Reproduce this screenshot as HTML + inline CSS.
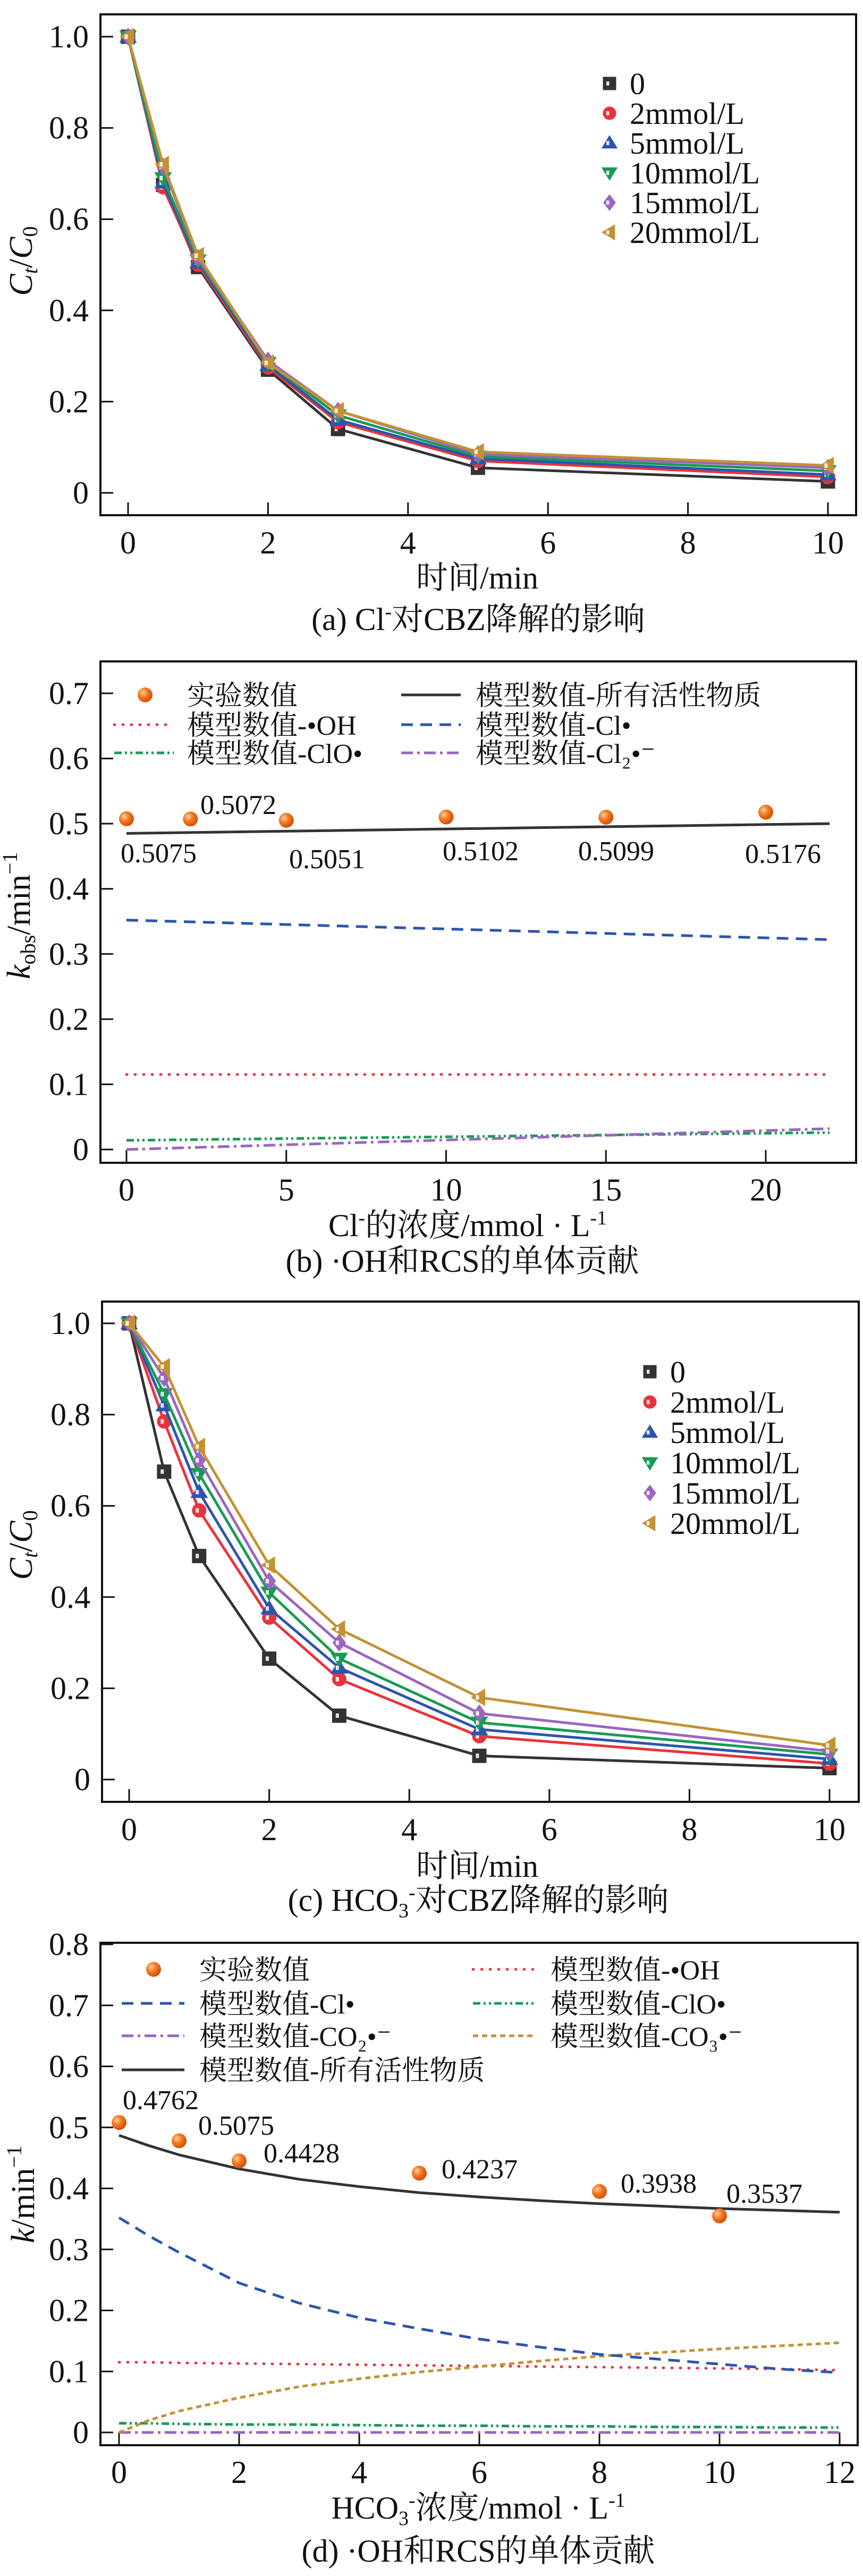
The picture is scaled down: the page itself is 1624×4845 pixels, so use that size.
<!DOCTYPE html>
<html><head><meta charset="utf-8">
<style>
html,body{margin:0;padding:0;background:#fff;}
svg{display:block;}
text{font-family:"Liberation Serif","Noto Serif CJK SC","Noto Sans CJK SC",serif;fill:#111;}
</style></head>
<body>
<svg id="fig" width="1624" height="4845" viewBox="0 0 1624 4845" xmlns="http://www.w3.org/2000/svg"></svg>
<script>
// ---------- Panel (a) data ----------
const aTimes = [0, 0.5, 1, 2, 3, 5, 10];
const aSeriesNames = ["0", "2mmol/L", "5mmol/L", "10mmol/L", "15mmol/L", "20mmol/L"];
const aS0 = [1, 0.675, 0.495, 0.27, 0.14, 0.055, 0.025];
const aS2 = [1, 0.67, 0.50, 0.275, 0.155, 0.07, 0.035];
const aS5 = [1, 0.68, 0.505, 0.28, 0.16, 0.075, 0.04];
const aS10 = [1, 0.69, 0.51, 0.285, 0.17, 0.08, 0.048];
const aS15 = [1, 0.715, 0.515, 0.29, 0.18, 0.085, 0.055];
const aS20 = [1, 0.72, 0.52, 0.285, 0.18, 0.09, 0.06];
const aYTicks = [0, 0.2, 0.4, 0.6, 0.8, 1.0];
const aYTickLabels = ["0", "0.2", "0.4", "0.6", "0.8", "1.0"];
const aXTicks = [0, 2, 4, 6, 8, 10];

// ---------- Panel (b) data ----------
const bConc = [0, 2, 5, 10, 15, 20];
const bExp = [0.5075, 0.5072, 0.5051, 0.5102, 0.5099, 0.5176];
const bExpLabels = ["0.5075", "0.5072", "0.5051", "0.5102", "0.5099", "0.5176"];
const bLineX = [0, 22];
const bAll = [0.485, 0.500];
const bOH = [0.115, 0.115];
const bCl = [0.352, 0.322];
const bClO = [0.014, 0.026];
const bCl2 = [0.0, 0.032];
const bYTicks = [0, 0.1, 0.2, 0.3, 0.4, 0.5, 0.6, 0.7];
const bYTickLabels = ["0", "0.1", "0.2", "0.3", "0.4", "0.5", "0.6", "0.7"];
const bXTicks = [0, 5, 10, 15, 20];

// ---------- Panel (c) data ----------
const cTimes = [0, 0.5, 1, 2, 3, 5, 10];
const cS0 = [1, 0.675, 0.49, 0.265, 0.14, 0.052, 0.025];
const cS2 = [1, 0.785, 0.59, 0.355, 0.22, 0.095, 0.035];
const cS5 = [1, 0.82, 0.63, 0.375, 0.245, 0.11, 0.045];
const cS10 = [1, 0.845, 0.67, 0.41, 0.265, 0.125, 0.055];
const cS15 = [1, 0.88, 0.70, 0.435, 0.30, 0.145, 0.062];
const cS20 = [1, 0.905, 0.73, 0.47, 0.33, 0.18, 0.075];

// ---------- Panel (d) data ----------
const dConc = [0, 1, 2, 5, 8, 10];
const dExp = [0.508, 0.478, 0.445, 0.425, 0.395, 0.355];
const dExpLabels = ["0.4762", "0.5075", "0.4428", "0.4237", "0.3938", "0.3537"];
const dLineX = [0, 0.5, 1, 2, 3, 4, 5, 6, 7, 8, 9, 10, 11, 12];
const dAll = [0.487, 0.470, 0.455, 0.432, 0.415, 0.403, 0.393, 0.386, 0.380, 0.375, 0.371, 0.367, 0.364, 0.361];
const dCl = [0.352, 0.322, 0.295, 0.245, 0.212, 0.188, 0.170, 0.153, 0.140, 0.128, 0.120, 0.112, 0.104, 0.098];
const dOH = [0.115, 0.115, 0.114, 0.113, 0.112, 0.111, 0.110, 0.109, 0.108, 0.107, 0.106, 0.105, 0.104, 0.102];
const dClO = [0.015, 0.015, 0.014, 0.013, 0.013, 0.012, 0.011, 0.011, 0.010, 0.010, 0.009, 0.009, 0.008, 0.008];
const dCO2 = [0, 0, 0, 0, 0, 0, 0, 0, 0, 0, 0, 0, 0, 0];
const dCO3 = [0, 0.020, 0.035, 0.057, 0.075, 0.088, 0.099, 0.108, 0.117, 0.125, 0.131, 0.137, 0.142, 0.147];
const dYTicks = [0, 0.1, 0.2, 0.3, 0.4, 0.5, 0.6, 0.7, 0.8];
const dYTickLabels = ["0", "0.1", "0.2", "0.3", "0.4", "0.5", "0.6", "0.7", "0.8"];
const dXTicks = [0, 2, 4, 6, 8, 10, 12];

const NS = "http://www.w3.org/2000/svg";
const svg = document.getElementById("fig");
const COLORS = ["#333333", "#e8343c", "#2a55b0", "#1a9a55", "#9a66c0", "#c39234"];

const defs = document.createElementNS(NS, "defs");
defs.innerHTML = '<radialGradient id="og" cx="0.35" cy="0.35" r="0.7"><stop offset="0" stop-color="#ffd0a0"/><stop offset="0.45" stop-color="#f57a20"/><stop offset="1" stop-color="#d04a08"/></radialGradient>';
svg.appendChild(defs);

function el(tag, attrs, parent) {
  const e = document.createElementNS(NS, tag);
  for (const k in attrs) e.setAttribute(k, attrs[k]);
  (parent || svg).appendChild(e);
  return e;
}
function txt(str, x, y, size, anchor, parent) {
  const t = el("text", {x: x, y: y, "font-size": size, "text-anchor": anchor || "start"}, parent);
  t.textContent = str;
  return t;
}
function linearScale(d0, d1, r0, r1) { return v => r0 + (v - d0) * (r1 - r0) / (d1 - d0); }

function frame(g, L, T, R, B) {
  const f = el("rect", {x: L, y: T, width: R - L, height: B - T, fill: "none", stroke: "#111", "stroke-width": 4}, g);
  
  
}
function yAxis(g, sy, L, ticks, labels) {
  const ga = el("g", {}, g);
  
  
  ticks.forEach((v, i) => {
    el("line", {x1: L, x2: L + 24, y1: sy(v), y2: sy(v), stroke: "#111", "stroke-width": 3}, ga);
    const t = txt(labels[i], L - 22, sy(v) + 20, 60, "end", ga);
    
    
  });
}
function xAxis(g, sx, B, ticks, labelY) {
  const ga = el("g", {}, g);
  
  
  ticks.forEach(v => {
    el("line", {x1: sx(v), x2: sx(v), y1: B, y2: B - 24, stroke: "#111", "stroke-width": 3}, ga);
    const t = txt(String(v), sx(v), labelY, 60, "middle", ga);
    
    
  });
}
function polyline(g, xs, ys, sx, sy, color, width, dash, name) {
  const pts = xs.map((x, i) => sx(x).toFixed(1) + "," + sy(ys[i]).toFixed(1)).join(" ");
  const p = el("polyline", {points: pts, fill: "none", stroke: color, "stroke-width": width, "stroke-linejoin": "round", "stroke-linecap": dash && dash.indexOf("1,") === 0 ? "round" : "butt"}, g);
  if (dash) p.setAttribute("stroke-dasharray", dash);
  
  
  return p;
}
function marker(g, kind, cx, cy, color, r) {
  let s;
  if (kind === 0) s = el("rect", {x: cx - r, y: cy - r, width: 2 * r, height: 2 * r}, g);
  else if (kind === 1) s = el("circle", {cx: cx, cy: cy, r: r}, g);
  else {
    let pts;
    if (kind === 2) pts = [[cx, cy - r * 1.1], [cx + r * 1.15, cy + r * 0.8], [cx - r * 1.15, cy + r * 0.8]];
    else if (kind === 3) pts = [[cx, cy + r * 1.1], [cx + r * 1.15, cy - r * 0.8], [cx - r * 1.15, cy - r * 0.8]];
    else if (kind === 4) pts = [[cx, cy - r * 1.2], [cx + r * 0.9, cy], [cx, cy + r * 1.2], [cx - r * 0.9, cy]];
    else pts = [[cx - r * 1.1, cy], [cx + r * 0.8, cy - r * 1.15], [cx + r * 0.8, cy + r * 1.15]];
    s = el("polygon", {points: pts.map(p => p.join(",")).join(" ")}, g);
  }
  s.setAttribute("fill", color);
  s.setAttribute("stroke", color);
  s.setAttribute("stroke-width", 3);
  el("rect", {x: cx - r * 0.55, y: cy - r * 0.35, width: r * 0.5, height: r * 0.7, fill: "#fff", opacity: 0.85}, g);
  return s;
}
function orangeDot(g, cx, cy) {
  const c = el("circle", {cx: cx, cy: cy, r: 14, fill: "url(#og)"}, g);
  
  
}
function ylabelRot(g, x, y, parts) {
  const t = el("text", {transform: "translate(" + x + "," + y + ") rotate(-90)", "text-anchor": "middle", "font-size": 62}, g);
  parts.forEach(p => {
    const ts = el("tspan", p.attrs || {}, t);
    ts.textContent = p.s;
  });
  
  
  return t;
}

function timePanel(cfg) {
  const g = el("g", {});
  
  
  const sx = linearScale(0, 10, cfg.x0, cfg.x10);
  const sy = linearScale(0, 1, cfg.y0, cfg.y1);
  frame(g, cfg.L, cfg.T, cfg.R, cfg.B);
  yAxis(g, sy, cfg.L, aYTicks, aYTickLabels);
  xAxis(g, sx, cfg.B, aXTicks, cfg.B + 72);
  cfg.series.forEach((ys, k) => {
    const sg = el("g", {}, g);
    
    
    polyline(sg, cfg.times, ys, sx, sy, COLORS[k], 5, null, 'series-line');
    cfg.times.forEach((t, i) => {
      const m = marker(sg, k, sx(t), sy(ys[i]), COLORS[k], 12);
      
      
    });
  });
  const lg = el("g", {}, g);
  
  
  aSeriesNames.forEach((n, k) => {
    const y = cfg.legY + k * cfg.legDy;
    const e = el("g", {}, lg);
    
    
    marker(e, k, cfg.legX, y, COLORS[k], 11);
    txt(n, cfg.legX + 38, y + 20, 58, "start", e);
  });
  ylabelRot(g, 60, cfg.yLabY, [{s: "C", attrs: {"font-style": "italic"}}, {s: "t", attrs: {"font-style": "italic", "font-size": 40, dy: 10}}, {s: "/", attrs: {dy: -10}}, {s: "C", attrs: {"font-style": "italic"}}, {s: "0", attrs: {"font-size": 40, dy: 10}}]);
  const xl = txt("时间/min", 898, cfg.xlabY, 60, "middle", g);
  
  
  return g;
}

timePanel({name: "panel-a", L: 189, T: 27, R: 1611, B: 969, x0: 241, x10: 1558, y0: 927, y1: 69,
  times: aTimes, series: [aS0, aS2, aS5, aS10, aS15, aS20], legX: 1147, legY: 157, legDy: 56, yLabY: 491, xlabY: 1107});
const capA = el("text", {x: 900, y: 1185, "font-size": 60, "text-anchor": "middle"});
capA.innerHTML = '(a) Cl<tspan font-size="38" dy="-22">-</tspan><tspan dy="22">对CBZ降解的影响</tspan>';



timePanel({name: "panel-c", L: 192, T: 2448, R: 1616, B: 3389, x0: 243, x10: 1561, y0: 3347, y1: 2489,
  times: cTimes, series: [cS0, cS2, cS5, cS10, cS15, cS20], legX: 1223, legY: 2580, legDy: 57, yLabY: 2906, xlabY: 3530});
const capC = el("text", {x: 900, y: 3594, "font-size": 60, "text-anchor": "middle"});
capC.innerHTML = '(c) HCO<tspan font-size="38" dy="12">3</tspan><tspan font-size="38" dy="-34">-</tspan><tspan dy="22">对CBZ降解的影响</tspan>';



(function () {
  const g = el("g", {});
  
  
  const L = 189, T = 1244, R = 1611, B = 2187;
  const sx = linearScale(0, 20, 238, 1441);
  const sy = linearScale(0, 0.7, 2162, 1304);
  frame(g, L, T, R, B);
  yAxis(g, sy, L, bYTicks, bYTickLabels);
  xAxis(g, sx, B, bXTicks, 2258);
  polyline(g, bLineX, bOH, sx, sy, "#e8343c", 5, "1,15", 'line-oh');
  polyline(g, bLineX, bCl, sx, sy, "#2a55b0", 5, "22,14", 'line-cl');
  polyline(g, bLineX, bClO, sx, sy, "#1a9a55", 5, "14,6,4,6,4,6", 'line-clo');
  polyline(g, bLineX, bCl2, sx, sy, "#9a66c0", 5, "22,8,5,8", 'line-cl2');
  polyline(g, bLineX, bAll, sx, sy, "#333", 5, null, 'line-all-species');
  bConc.forEach((c, i) => orangeDot(g, sx(c), sy(bExp[i])));
  const labPos = [[227, 1622], [377, 1531], [544, 1633], [833, 1618], [1088, 1618], [1402, 1623]];
  bExpLabels.forEach((s, i) => {
    const t = txt(s, labPos[i][0], labPos[i][1], 52, "start", g);
    
    
  });
  const lg = el("g", {}, g);
  
  
  const items = [
    {x: 215, y: 1307, kind: "dot", label: "实验数值"},
    {x: 755, y: 1307, color: "#333", dash: null, label: "模型数值-所有活性物质"},
    {x: 215, y: 1363, color: "#e8343c", dash: "1,15", label: "模型数值-•OH"},
    {x: 755, y: 1363, color: "#2a55b0", dash: "22,14", label: "模型数值-Cl•"},
    {x: 215, y: 1416, color: "#1a9a55", dash: "14,6,4,6,4,6", label: "模型数值-ClO•"},
    {x: 755, y: 1416, color: "#9a66c0", dash: "22,8,5,8", label: "模型数值-Cl₂•⁻"}
  ];
  items.forEach(it => {
    const e = el("g", {}, lg);
    
    
    if (it.kind === "dot") orangeDot(e, it.x + 58, it.y);
    else {
      const ln = el("line", {x1: it.x, x2: it.x + 112, y1: it.y, y2: it.y, stroke: it.color, "stroke-width": 5, "stroke-linecap": it.dash === "1,15" ? "round" : "butt"}, e);
      if (it.dash) ln.setAttribute("stroke-dasharray", it.dash);
    }
    txt(it.label, it.x + (it.x < 500 ? 137 : 140), it.y + 19, 52, "start", e);
  });
  ylabelRot(g, 56, 1722, [{s: "k", attrs: {"font-style": "italic"}}, {s: "obs", attrs: {"font-size": 40, dy: 10}}, {s: "/min", attrs: {dy: -10}}, {s: "−1", attrs: {"font-size": 40, dy: -24}}]);
  const xl = el("text", {x: 880, y: 2325, "font-size": 60, "text-anchor": "middle"}, g);
  xl.innerHTML = 'Cl<tspan font-size="38" dy="-22">-</tspan><tspan dy="22">的浓度/mmol · L</tspan><tspan font-size="38" dy="-22">-1</tspan>';
  
  
  const cap = txt("(b) ·OH和RCS的单体贡献", 870, 2392, 60, "middle", g);
  
  
})();

(function () {
  const g = el("g", {});
  
  
  const L = 189, T = 3654, R = 1614, B = 4599;
  const sx = linearScale(0, 12, 224, 1580);
  const sy = linearScale(0, 0.8, 4575, 3657);
  frame(g, L, T, R, B);
  yAxis(g, sy, L, dYTicks, dYTickLabels);
  xAxis(g, sx, B, dXTicks, 4670);
  polyline(g, dLineX, dCO2, sx, sy, "#9a66c0", 5, "22,8,5,8", 'line-co2');
  polyline(g, dLineX, dClO, sx, sy, "#1a9a55", 5, "14,6,4,6,4,6", 'line-clo');
  polyline(g, dLineX, dOH, sx, sy, "#e8343c", 5, "1,15", 'line-oh');
  polyline(g, dLineX, dCO3, sx, sy, "#c39234", 5, "10,7", 'line-co3');
  polyline(g, dLineX, dCl, sx, sy, "#2a55b0", 5, "22,14", 'line-cl');
  polyline(g, dLineX, dAll, sx, sy, "#333", 5, null, 'line-all-species');
  dConc.forEach((c, i) => orangeDot(g, sx(c), sy(dExp[i])));
  const labPos = [[231, 3967], [373, 4015], [496, 4067], [831, 4097], [1168, 4124], [1367, 4143]];
  dExpLabels.forEach((s, i) => {
    const t = txt(s, labPos[i][0], labPos[i][1], 52, "start", g);
    
    
  });
  const lg = el("g", {}, g);
  
  
  const items = [
    {x: 229, y: 3704, kind: "dot", label: "实验数值"},
    {x: 890, y: 3704, color: "#e8343c", dash: "1,15", label: "模型数值-•OH"},
    {x: 229, y: 3768, color: "#2a55b0", dash: "22,14", label: "模型数值-Cl•"},
    {x: 890, y: 3768, color: "#1a9a55", dash: "14,6,4,6,4,6", label: "模型数值-ClO•"},
    {x: 229, y: 3829, color: "#9a66c0", dash: "22,8,5,8", label: "模型数值-CO₂•⁻"},
    {x: 890, y: 3829, color: "#c39234", dash: "10,7", label: "模型数值-CO₃•⁻"},
    {x: 229, y: 3893, color: "#333", dash: null, label: "模型数值-所有活性物质"}
  ];
  items.forEach(it => {
    const e = el("g", {}, lg);
    
    
    if (it.kind === "dot") orangeDot(e, it.x + 60, it.y);
    else {
      const ln = el("line", {x1: it.x, x2: it.x + 118, y1: it.y, y2: it.y, stroke: it.color, "stroke-width": 5, "stroke-linecap": it.dash === "1,15" ? "round" : "butt"}, e);
      if (it.dash) ln.setAttribute("stroke-dasharray", it.dash);
    }
    txt(it.label, it.x + 146, it.y + 19, 52, "start", e);
  });
  ylabelRot(g, 64, 4127, [{s: "k", attrs: {"font-style": "italic"}}, {s: "/min"}, {s: "−1", attrs: {"font-size": 40, dy: -24}}]);
  const xl = el("text", {x: 900, y: 4737, "font-size": 60, "text-anchor": "middle"}, g);
  xl.innerHTML = 'HCO<tspan font-size="38" dy="12">3</tspan><tspan font-size="38" dy="-34">-</tspan><tspan dy="22">浓度/mmol · L</tspan><tspan font-size="38" dy="-22">-1</tspan>';
  
  
  const cap = txt("(d) ·OH和RCS的单体贡献", 900, 4818, 60, "middle", g);
  
  
})();
</script>
</body></html>
